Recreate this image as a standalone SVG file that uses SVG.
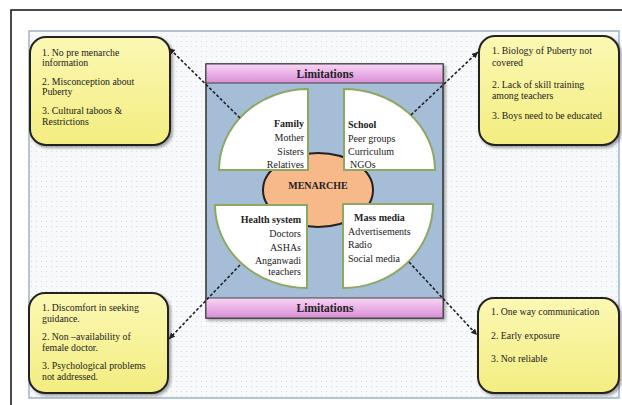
<svg xmlns="http://www.w3.org/2000/svg" width="622" height="405" viewBox="0 0 622 405">
<defs>
<pattern id="dots" width="5" height="5" patternUnits="userSpaceOnUse">
<rect width="5" height="5" fill="#f8f9fb"/>
<circle cx="1.5" cy="1.5" r="0.6" fill="#d3d7de"/>
</pattern>
<linearGradient id="yel" x1="0" y1="0" x2="0" y2="1">
<stop offset="0" stop-color="#fbf8b4"/>
<stop offset="1" stop-color="#f3ed80"/>
</linearGradient>
<linearGradient id="pink" x1="0" y1="0" x2="0" y2="1">
<stop offset="0" stop-color="#f7d6f4"/>
<stop offset="0.5" stop-color="#eab1e7"/>
<stop offset="1" stop-color="#d98fd6"/>
</linearGradient>
<filter id="sh" x="-10%" y="-10%" width="130%" height="130%">
<feDropShadow dx="2" dy="2" stdDeviation="1.5" flood-color="#000" flood-opacity="0.35"/>
</filter>
<marker id="arr" markerWidth="8" markerHeight="8" refX="6" refY="3" orient="auto" markerUnits="userSpaceOnUse">
<path d="M0,0 L6,3 L0,6 Z" fill="#222"/>
</marker>
<style>
.box{fill:url(#yel);stroke:#222;stroke-width:2;filter:url(#sh)}
.bt{font-family:"Liberation Serif","Times New Roman",serif;font-size:9.8px;fill:#222}
.ct{font-family:"Liberation Serif","Times New Roman",serif;font-size:10px;fill:#222}
.b{font-weight:bold}
.q{fill:#fff;stroke:#8ca862;stroke-width:2}
.lim{fill:url(#pink);stroke:#444;stroke-width:1}
.lt{font-family:"Liberation Serif","Times New Roman",serif;font-size:11.5px;font-weight:bold;fill:#222;text-anchor:middle}
.con{stroke:#222;stroke-width:1.6;stroke-dasharray:3 2;fill:none;marker-end:url(#arr)}
</style>
</defs>
<rect x="0" y="0" width="622" height="405" fill="#fff"/>
<rect x="11" y="10" width="620" height="400" fill="#fff" stroke="#111" stroke-width="1.5"/>
<rect x="29" y="31" width="590" height="367" fill="url(#dots)" stroke="#9fb2c6" stroke-width="1.5"/>

<g id="center">
<rect x="206" y="64" width="237" height="254" fill="#a6bdd7" stroke="#333" stroke-width="1.5" filter="url(#sh)"/>
</g>
<g id="menarche">
<ellipse cx="318" cy="190" rx="55" ry="37" fill="#f8b98a" stroke="#222" stroke-width="2"/>
<text class="ct b" x="318" y="189" text-anchor="middle">MENARCHE</text>
</g>
<g id="family">
<path class="q" d="M308,89 L308,170 L219,170 A89,81 0 0 1 308,89 Z"/>
<text class="ct" text-anchor="end"><tspan class="b" x="304" y="127">Family</tspan><tspan x="304" y="141">Mother</tspan><tspan x="304" y="155">Sisters</tspan><tspan x="304" y="168">Relatives</tspan></text>
</g>
<g id="school">
<path class="q" d="M344,89 A91,81 0 0 1 435,170 L344,170 Z"/>
<text class="ct"><tspan class="b" x="348" y="128">School</tspan><tspan x="348" y="142">Peer groups</tspan><tspan x="348" y="155">Curriculum</tspan><tspan x="350" y="168">NGOs</tspan></text>
</g>
<g id="health">
<path class="q" d="M215,205 L307,205 L307,288 A92,83 0 0 1 215,205 Z"/>
<text class="ct" text-anchor="end"><tspan class="b" x="301" y="223">Health system</tspan><tspan x="301" y="237">Doctors</tspan><tspan x="301" y="251">ASHAs</tspan><tspan x="301" y="264">Anganwadi</tspan><tspan x="301" y="275">teachers</tspan></text>
</g>
<g id="massmedia">
<path class="q" d="M343,204 L433,204 A90,84 0 0 1 343,288 Z"/>
<text class="ct"><tspan class="b" x="354" y="221">Mass media</tspan><tspan x="348" y="235">Advertisements</tspan><tspan x="348" y="248">Radio</tspan><tspan x="348" y="262">Social media</tspan></text>
</g>
<g id="limitations-top">
<rect class="lim" x="206" y="64" width="237" height="19"/>
<text class="lt" x="325" y="78">Limitations</text>
</g>
<g id="limitations-bottom">
<rect class="lim" x="206" y="298" width="237" height="20"/>
<text class="lt" x="325" y="312">Limitations</text>
</g>

<g id="box-family">
<rect class="box" x="30" y="37" width="140" height="108" rx="16"/>
<text class="bt"><tspan x="42" y="56">1. No pre menarche</tspan><tspan x="42" y="66">information</tspan><tspan x="42" y="85">2. Misconception about</tspan><tspan x="42" y="95">Puberty</tspan><tspan x="42" y="114">3. Cultural taboos &amp;</tspan><tspan x="42" y="125">Restrictions</tspan></text>
</g>
<g id="box-school">
<rect class="box" x="479" y="36" width="140" height="109" rx="16"/>
<text class="bt"><tspan x="492" y="54">1. Biology of Puberty not</tspan><tspan x="492" y="66">covered</tspan><tspan x="492" y="88">2. Lack of skill training</tspan><tspan x="492" y="99">among teachers</tspan><tspan x="492" y="119">3. Boys need to be educated</tspan></text>
</g>
<g id="box-health">
<rect class="box" x="29" y="293" width="139" height="100" rx="16"/>
<text class="bt"><tspan x="42" y="311">1. Discomfort in seeking</tspan><tspan x="42" y="322">guidance.</tspan><tspan x="42" y="340">2. Non –availability of</tspan><tspan x="42" y="351">female doctor.</tspan><tspan x="42" y="369">3. Psychological problems</tspan><tspan x="42" y="380">not addressed.</tspan></text>
</g>
<g id="box-media">
<rect class="box" x="478" y="298" width="141" height="95" rx="16"/>
<text class="bt"><tspan x="491" y="315">1. One way communication</tspan><tspan x="491" y="339">2. Early exposure</tspan><tspan x="491" y="362">3. Not reliable</tspan></text>
</g>

<g id="connectors">
<line class="con" x1="240" y1="118" x2="169" y2="48"/>
<line class="con" x1="411" y1="115" x2="478" y2="52"/>
<line class="con" x1="240" y1="265" x2="169" y2="339"/>
<line class="con" x1="409" y1="262" x2="477" y2="335"/>
</g>
</svg>
